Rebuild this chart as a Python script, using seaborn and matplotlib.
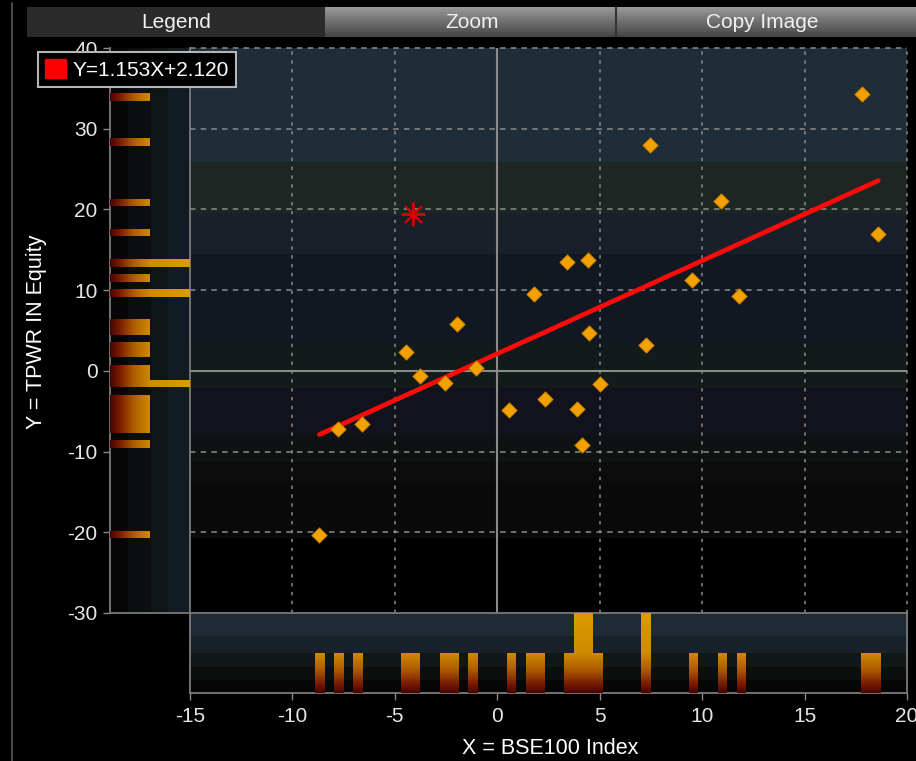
import numpy as np
import matplotlib
matplotlib.use("Agg")
import matplotlib.pyplot as plt
import seaborn as sns
from matplotlib.patches import Rectangle, PathPatch, Patch
from matplotlib.path import Path
from matplotlib.colors import LinearSegmentedColormap
from matplotlib.lines import Line2D

# values
bse = [-8.68, -7.77, -6.6, -4.44, -3.77, -2.54, -1.97, -1.06, 0.55, 1.79, 2.31, 3.4,
       3.89, 4.13, 4.44, 4.49, 5.0, 7.27, 7.46, 9.5, 10.9, 11.8, 17.8, 18.6]
tpwr = [-20.3, -7.2, -6.6, 2.35, -0.62, -1.5, 5.8, 0.33, -4.9, 9.5, -3.5, 13.5,
        -4.7, -9.2, 13.75, 4.7, -1.65, 3.2, 28.0, 11.3, 21.0, 9.3, 34.3, 16.9]
last_x, last_y = -4.13, 19.45
slope, intercept = 1.153, 2.120
legend_label = "Y=1.153X+2.120"
x_ticks = [-15, -10, -5, 0, 5, 10, 15, 20]
y_ticks = [-30, -20, -10, 0, 10, 20, 30, 40]
buttons = ["Legend", "Zoom", "Copy Image"]

# histogram bins of the marginal strips
x_bins = -8.9 + 0.468 * np.arange(61)
y_bins = -20.75 + 0.935 * np.arange(61)

sns.set_theme(style="dark", rc={"figure.facecolor": "black", "axes.facecolor": "black",
                                "axes.edgecolor": "#7a7a7a", "text.color": "white"})
plt.rcParams["font.family"] = ["Liberation Sans", "DejaVu Sans"]

W, H = 916, 761
fig = plt.figure(figsize=(W / 100, H / 100), dpi=100)


def box(x0, y0, x1, y1):
    return [x0 / W, 1 - y1 / H, (x1 - x0) / W, (y1 - y0) / H]


ax = fig.add_axes(box(190, 48, 907, 613))
axl = fig.add_axes(box(110, 48, 190, 613))
axb = fig.add_axes(box(190, 613, 907, 693))

bar_cmap = LinearSegmentedColormap.from_list(
    "bars", [(0, "#4a0303"), (0.12, "#7a1c02"), (0.3, "#b05e00"), (0.5, "#cf8a00"), (1, "#dc9c00")])


def gradient_bars(a, bars, vertical):
    paths = [b.get_path().transformed(b.get_patch_transform()) for b in bars]
    clip = PathPatch(Path.make_compound_path(*paths), transform=a.transData,
                     facecolor="none", edgecolor="none")
    a.add_patch(clip)
    g = np.linspace(0, 1, 256)
    if vertical:
        img, ext = g[:, None], (-15, 20, 0, 2)
    else:
        img, ext = g[None, :], (0, 2, -30, 40)
    im = a.imshow(img, cmap=bar_cmap, extent=ext, origin="lower", aspect="auto", zorder=3)
    im.set_clip_path(clip)
    for b in bars:
        b.set_visible(False)


# bottom strip: histogram of X
sns.histplot(x=bse, bins=x_bins, ax=axb, color="#d99000", edgecolor="none", alpha=1)
gradient_bars(axb, list(axb.patches), True)
for lo, hi, c in [(0, 0.33, "#060606"), (0.33, 0.66, "#0c0e0e"), (0.66, 1.0, "#111616"),
                  (1.0, 1.42, "#172127"), (1.42, 2, "#1e2b35")]:
    axb.axhspan(lo, hi, color=c, lw=0, zorder=0)
axb.set_xlim(-15, 20)
axb.set_ylim(0, 2)
axb.set_xticks(x_ticks)
axb.set_xticklabels([str(t) for t in x_ticks])
axb.set_yticks([])
axb.set_xlabel("")
axb.set_ylabel("")
axb.tick_params(axis="x", bottom=True, length=5, width=1, color="#8a8a8a",
                labelcolor="#e6e6e6", labelsize=15, pad=5)

# left strip: histogram of Y
sns.histplot(y=tpwr, bins=y_bins, ax=axl, color="#d99000", edgecolor="none", alpha=1)
gradient_bars(axl, list(axl.patches), False)
for lo, hi, c in [(0, 0.45, "#050505"), (0.45, 1.02, "#0a0e0f"), (1.02, 1.45, "#0e1517"),
                  (1.45, 2, "#121b24")]:
    axl.axvspan(lo, hi, color=c, lw=0, zorder=0)
axl.set_xlim(0, 2)
axl.set_ylim(-30, 40)
axl.set_yticks(y_ticks)
axl.set_yticklabels([str(t) for t in y_ticks])
axl.set_xticks([])
axl.set_xlabel("")
axl.set_ylabel("")
axl.tick_params(axis="y", left=True, length=5, width=1, color="#8a8a8a",
                labelcolor="#e6e6e6", labelsize=15, pad=4)
axl.spines["top"].set_visible(False)

for a in (axl, axb):
    for s in a.spines.values():
        s.set_color("#7a7a7a")
        s.set_linewidth(1.3)

# main panel background bands
band_edges = [-30, -20.7, -13.8, -11.3, -8, -2.1, 3.3, 14.5, 19.5, 25.9, 40]
band_colors = ["#000000", "#0a0a0a", "#0c0c0d", "#0e1213", "#12121c", "#121a1a",
               "#111822", "#19202a", "#1e2624", "#1e2d37"]
for lo, hi, c in zip(band_edges[:-1], band_edges[1:], band_colors):
    ax.axhspan(lo, hi, color=c, lw=0, zorder=0)

for xv in x_ticks[1:]:
    if xv != 0:
        ax.axvline(xv, color="#8c8c8c", lw=1.1, ls=(0, (2.2, 3.6)), zorder=1, clip_on=False)
for yv in y_ticks[1:]:
    if yv != 0:
        ax.axhline(yv, color="#8c8c8c", lw=1.1, ls=(0, (3.6, 3.4)), zorder=1, clip_on=False)
ax.axvline(0, color="#8a8a8a", lw=1.5, zorder=1)
ax.axhline(0, color="#8a8a8a", lw=1.5, zorder=1)

xs = np.array([min(bse), max(bse)])
sns.lineplot(x=xs, y=slope * xs + intercept, ax=ax, color="#ff0a0a", lw=3.4, zorder=4)
sns.scatterplot(x=bse, y=tpwr, ax=ax, marker="D", s=62, color="#f2a200",
                edgecolor="#b87400", linewidth=0.6, zorder=5)
ax.plot([last_x], [last_y], marker=(8, 2, 0), ms=17, mec="#d40000", mew=1.4, ls="none", zorder=6)
ax.plot([last_x], [last_y], marker="o", ms=6, mfc="#d40000", mec="none", ls="none", zorder=6)

ax.set_xlim(-15, 20)
ax.set_ylim(-30, 40)
ax.set_xticks([])
ax.set_yticks([])
ax.set_xlabel("")
ax.set_ylabel("")
for s in ax.spines.values():
    s.set_visible(False)

fig.text(37 / W, 1 - 332 / H, "Y = TPWR IN Equity", rotation=90, ha="center", va="center",
         fontsize=15.5, color="white")
fig.text(550 / W, 1 - 749 / H, "X = BSE100 Index", ha="center", va="center",
         fontsize=15.5, color="white")

leg = fig.legend(handles=[Patch(facecolor="#ff0000", edgecolor="#ff0000")], labels=[legend_label],
                 loc="upper left", bbox_to_anchor=(38 / W, 1 - 52 / H), borderaxespad=0,
                 fontsize=15, labelcolor="white", facecolor="black", edgecolor="#b5b5b5",
                 framealpha=1, fancybox=False, borderpad=0.35, handlelength=1.0,
                 handleheight=1.0, handletextpad=0.3)
leg.get_frame().set_linewidth(1.5)

# toolbar on top
fig.patches.append(Rectangle((27 / W, 1 - 37 / H), (325 - 27) / W, 30 / H,
                             transform=fig.transFigure, facecolor="#2b2b2b", edgecolor="none"))
axbtn = fig.add_axes(box(325, 7, 916, 37))
axbtn.imshow(np.linspace(0, 1, 64)[:, None], cmap=LinearSegmentedColormap.from_list(
    "btn", ["#9a9a9a", "#6e6e6e", "#454545"]), aspect="auto", extent=(325, 916, 37, 7))
axbtn.axvline(616, color="#333333", lw=1.5)
axbtn.set_xlim(325, 916)
axbtn.set_ylim(37, 7)
axbtn.axis("off")
for label, cx in zip(buttons, [176, 472, 762]):
    fig.text(cx / W, 1 - 22 / H, label, ha="center", va="center", fontsize=15, color="#f0f0f0")
fig.lines.append(Line2D([12 / W, 12 / W], [0, 1 - 3 / H], transform=fig.transFigure,
                        color="#5a5a5a", lw=1.2))

fig.savefig("out.png", dpi=100, facecolor="black")
